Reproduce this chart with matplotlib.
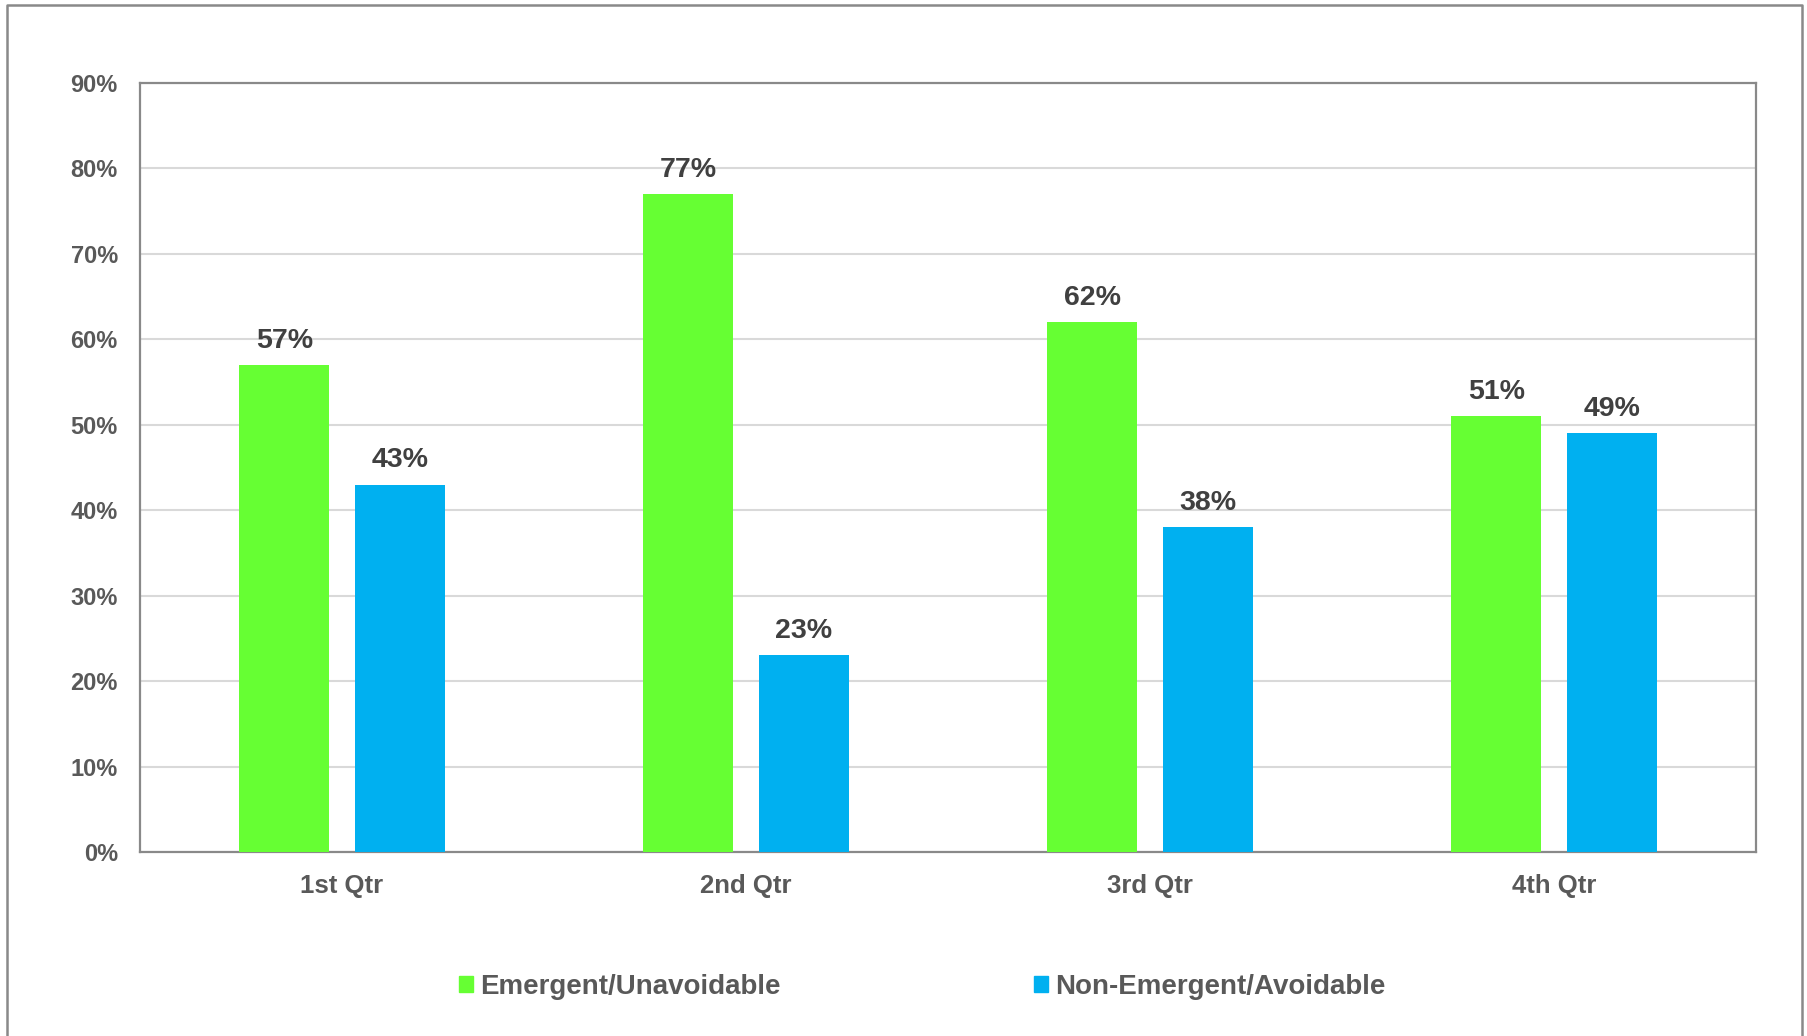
import numpy as np
import matplotlib
matplotlib.use("Agg")
import matplotlib.pyplot as plt
from matplotlib.lines import Line2D
from matplotlib.patches import Patch

quarters = ["1st Qtr", "2nd Qtr", "3rd Qtr", "4th Qtr"]
emergent = [57, 77, 62, 51]
non_emergent = [43, 23, 38, 49]
series_names = ["Emergent/Unavoidable", "Non-Emergent/Avoidable"]
yticks = np.arange(0, 91, 10)

green = "#66ff33"
blue = "#00b0f0"
text_gray = "#595959"
label_dark = "#404040"
spine_gray = "#898989"

plt.rcParams["font.family"] = ["Liberation Sans", "DejaVu Sans"]
plt.rcParams["font.weight"] = "bold"

fig = plt.figure(figsize=(18.07, 10.36), dpi=100)
ax = fig.add_axes([140 / 1807, 1 - 852 / 1036, 1616 / 1807, 769 / 1036])

x = np.arange(len(quarters))
w = 0.222
b1 = ax.bar(x - 0.143, emergent, w, color=green, zorder=3)
b2 = ax.bar(x + 0.143, non_emergent, w, color=blue, zorder=3)

for bars in (b1, b2):
    ax.bar_label(bars, labels=[f"{v}%" for v in bars.datavalues], padding=8,
                 fontsize=20.5, fontweight="bold", color=label_dark)

ax.set_xlim(-0.5, len(quarters) - 0.5)
ax.set_ylim(0, 90)
ax.set_yticks(yticks)
ax.set_yticklabels([f"{v}%" for v in yticks])
ax.set_xticks(x)
ax.set_xticklabels(quarters)
ax.tick_params(axis="y", length=0, pad=16, labelsize=17, labelcolor=text_gray)
ax.tick_params(axis="x", length=0, pad=16, labelsize=18.5, labelcolor=text_gray)
for t in ax.get_xticklabels() + ax.get_yticklabels():
    t.set_fontweight("bold")

ax.grid(axis="y", color="#d9d9d9", linewidth=1.5, zorder=0)
for s in ax.spines.values():
    s.set_color(spine_gray)
    s.set_linewidth(1.6)

# legend, one entry each, placed like the original
for name, col, xpos in zip(series_names, [green, blue], [459, 1034]):
    fig.legend(handles=[Patch(color=col)], labels=[name], loc="center left",
               bbox_to_anchor=(xpos / 1807, 1 - 987 / 1036), frameon=False,
               handlelength=0.5, handleheight=0.5,
               handletextpad=0.25, borderpad=0, borderaxespad=0,
               labelcolor=text_gray, prop={"weight": "bold", "size": 20})

# outer chart border (left, top, right)
bx = [7 / 1807, 7 / 1807, 1802 / 1807, 1802 / 1807]
by = [0, 1 - 5 / 1036, 1 - 5 / 1036, 0]
fig.add_artist(Line2D(bx, by, color=spine_gray, linewidth=1.8, transform=fig.transFigure))

fig.savefig("out.png", dpi=100, facecolor="white")
